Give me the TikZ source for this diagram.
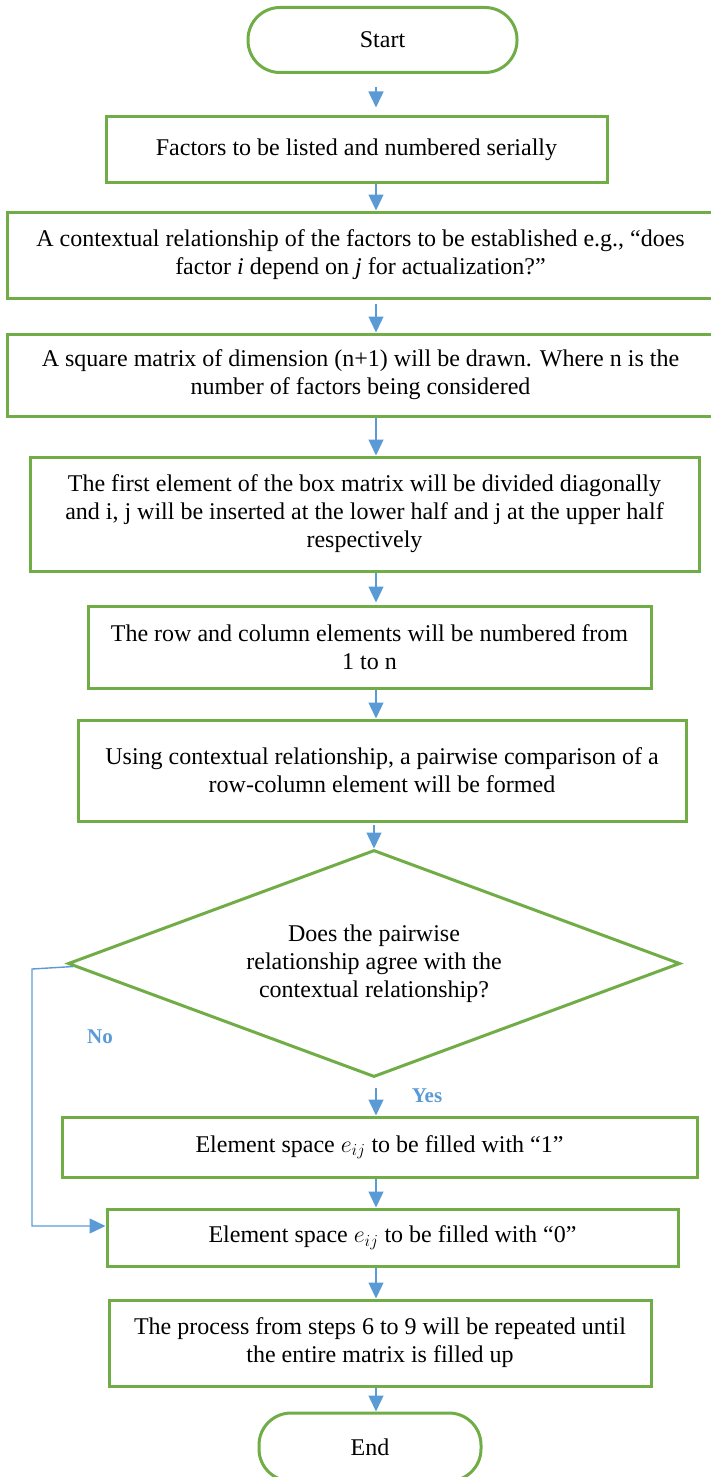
\RequirePackage{fix-cm}
\documentclass[tikz,border=0pt]{standalone}
\usepackage{fontspec}
\setmainfont{Liberation Serif}
\usetikzlibrary{arrows.meta,shapes.geometric}
\definecolor{fcgreen}{RGB}{112,173,71}
\definecolor{fcblue}{RGB}{91,155,213}
\begin{document}
\begin{tikzpicture}[x=1pt,y=-1pt,
  txt/.style={font=\fontsize{24}{28}\selectfont},
  procbox/.style={draw=fcgreen, line width=3pt, align=center, inner sep=0pt, txt},
  termbox/.style={procbox, rounded corners=32pt},
  conn/.style={draw=fcblue, line width=1.4pt},
  arr/.style={conn, -{Triangle[length=16pt,width=15pt]}},
  lbl/.style={text=fcblue, font=\fontsize{21}{24}\selectfont\bfseries}]
\useasboundingbox (0,0) rectangle (710,1477);
\node[termbox, minimum width=269pt, minimum height=65pt] (start) at (382.5,40) {Start};
\node[procbox, minimum width=501pt, minimum height=65pt] (f1) at (356.5,149.5) {Factors to be listed and numbered serially};
\node[procbox, minimum width=707pt, minimum height=86pt] (f2) at (360.5,255) {A contextual relationship of the factors to be established e.g., “does\\ factor \textit{i} depend on \textit{j} for actualization?”};
\node[procbox, minimum width=707pt, minimum height=82pt] (f3) at (360.5,375) {A square matrix of dimension (n+1) will be drawn. Where n is the\\ number of factors being considered};
\node[procbox, minimum width=669pt, minimum height=114pt] (f4) at (364.5,514) {The first element of the box matrix will be divided diagonally\\ and i, j will be inserted at the lower half and j at the upper half\\ respectively};
\node[procbox, minimum width=563pt, minimum height=82pt] (f5) at (369.5,647) {The row and column elements will be numbered from\\ 1 to n};
\node[procbox, minimum width=608pt, minimum height=101pt] (f6) at (382,770.5) {Using contextual relationship, a pairwise comparison of a\\ row-column element will be formed};
\node[diamond, draw=fcgreen, line width=3pt, aspect=2.7, inner sep=0pt, minimum width=612pt, minimum height=227pt, align=center, txt] (dec) at (374,963.5) {Does the pairwise\\ relationship agree with the\\ contextual relationship?};
\node[procbox, minimum width=635pt, minimum height=60pt] (e1) at (379.5,1147) {Element space $e_{ij}$ to be filled with “1”};
\node[procbox, minimum width=571pt, minimum height=57pt] (e0) at (392.5,1237.5) {Element space $e_{ij}$ to be filled with “0”};
\node[procbox, minimum width=542pt, minimum height=86pt] (rep) at (380,1343) {The process from steps 6 to 9 will be repeated until\\ the entire matrix is filled up};
\node[termbox, minimum width=222pt, minimum height=68pt] (end) at (370,1447) {End};
\coordinate (ax) at (376,0);
\draw[arr, shorten <=13pt, shorten >=8pt] (start.south -| ax) -- (f1.north -| ax);
\draw[arr] (f1.south -| ax) -- (f2.north -| ax);
\draw[arr, shorten <=4pt] (f2.south -| ax) -- (f3.north -| ax);
\draw[arr] (f3.south -| ax) -- (f4.north -| ax);
\draw[arr, shorten >=2pt] (f4.south -| ax) -- (f5.north -| ax);
\draw[arr] (f5.south -| ax) -- (f6.north -| ax);
\draw[arr, shorten <=2pt] (f6.south -| dec.north) -- (dec.north);
\draw[arr, shorten <=9pt] (dec.south -| ax) -- (e1.north -| ax);
\draw[arr] (e1.south -| ax) -- (e0.north -| ax);
\draw[arr] (e0.south -| ax) -- (rep.north -| ax);
\draw[arr] (rep.south -| ax) -- (end.north -| ax);
\coordinate (nt) at (32,969);
\coordinate (nc) at (32,1226);
\draw[arr] ([xshift=7pt,yshift=-3pt]dec.west) -- (nt) -- (nc) -- (e0.west |- nc);
\node[lbl] (nolbl) at (100,1037) {No};
\node[lbl] (yeslbl) at (427,1096) {Yes};
\end{tikzpicture}
\end{document}
